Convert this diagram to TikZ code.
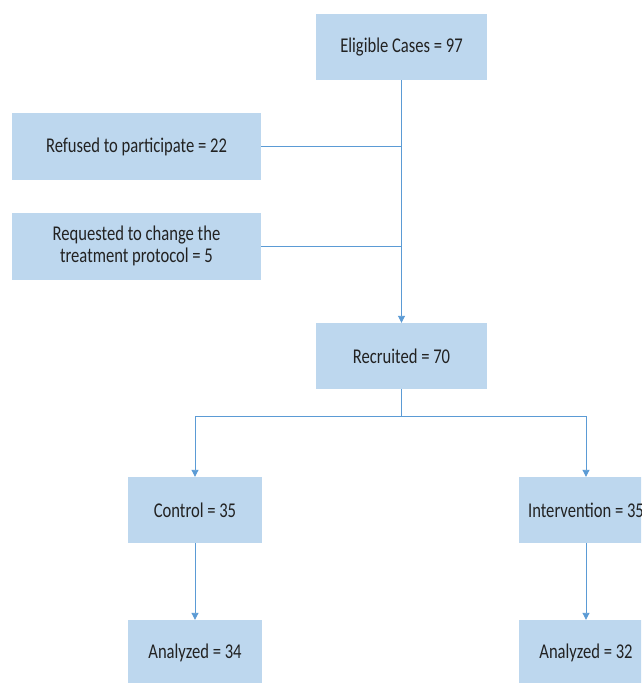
\documentclass[tikz,border=0pt]{standalone}
\usepackage{fontspec}
\setmainfont{Carlito}[FakeStretch=0.79]
\usepackage{xcolor}
\usepackage{tikz}
\usetikzlibrary{arrows.meta,positioning,calc}
\definecolor{boxblue}{HTML}{BDD7EE}
\definecolor{lineblue}{HTML}{5B9BD5}
\definecolor{boxtext}{HTML}{222222}
\tikzset{
	flowbox/.style={fill=boxblue,draw=none,align=center,inner sep=2pt,text=boxtext,
		font=\fontsize{21}{22}\selectfont,minimum height=66pt},
	link/.style={draw=lineblue,line width=0.9pt},
	arrowlink/.style={link,-{Triangle[width=7pt,length=7pt]}}
}

\begin{document}
\begin{tikzpicture}[x=1pt,y=-1pt]
		\clip (0,0) rectangle (641,683);
		\fill[white] (0,0) rectangle (641,683);
		\node[flowbox,minimum width=171pt] (eligible) at (401.5,47) {Eligible Cases = 97};
		\node[flowbox,minimum width=249pt,minimum height=67pt] (refused) at (136.5,146.5) {Refused to participate = 22};
		\node[flowbox,minimum width=249pt,minimum height=67pt] (requested) at (136.5,246) {Requested to change the\\treatment protocol = 5};
		\node[flowbox,minimum width=171pt] (recruited) at (401.5,356) {Recruited = 70};
		\node[flowbox,minimum width=134pt] (control) at (195,510) {Control = 35};
		\node[flowbox,minimum width=134pt] (intervention) at (586,510) {Intervention = 35};
		\node[flowbox,minimum width=134pt] (analyzedc) at (195,653) {Analyzed = 34};
		\node[flowbox,minimum width=134pt] (analyzedi) at (586,653) {Analyzed = 32};
		% exclusions join the main line
		\draw[arrowlink] (eligible.south) -- (recruited.north);
		\draw[link] (refused.east) -- (refused.east -| eligible.south);
		\draw[link] (requested.east) -- (requested.east -| eligible.south);
		% split into the two arms
		\coordinate (split) at ($(recruited.south)+(0,27)$);
		\draw[link] (recruited.south) -- (split);
		\draw[link] (split -| control.north) -- (split -| intervention.north);
		\draw[arrowlink] (split -| control.north) -- (control.north);
		\draw[arrowlink] (split -| intervention.north) -- (intervention.north);
		\draw[arrowlink] (control.south) -- (analyzedc.north);
		\draw[arrowlink] (intervention.south) -- (analyzedi.north);
	\end{tikzpicture}
\end{document}
